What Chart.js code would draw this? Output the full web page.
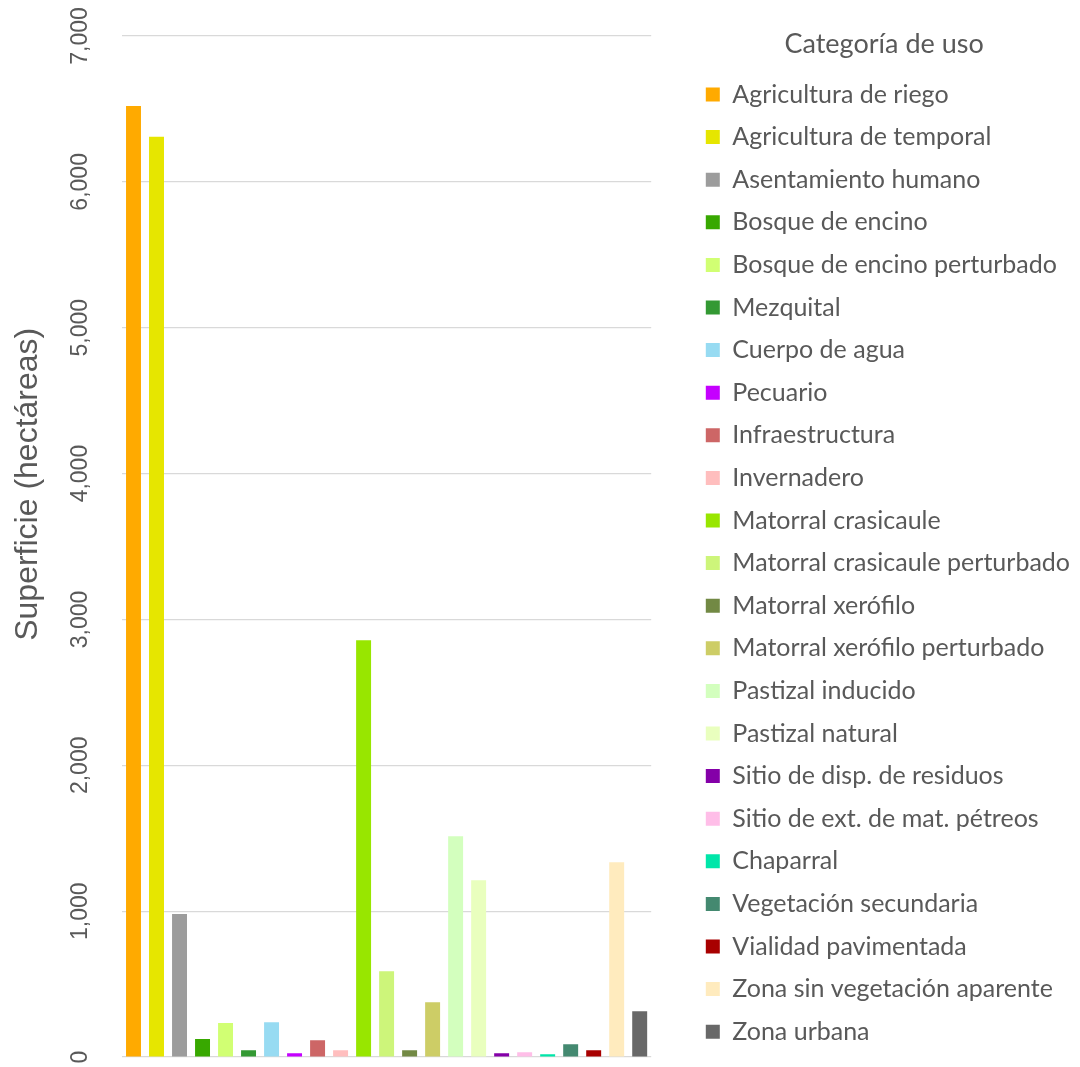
<!DOCTYPE html>
<html><head><meta charset="utf-8">
<script src="https://cdn.jsdelivr.net/npm/chart.js@4"></script>
<style>html,body{margin:0;padding:0;background:#fff}canvas{display:block}</style>
</head><body>
<canvas id="c" width="1080" height="1067"></canvas>
<script>
const categories = [
  "Agricultura de riego","Agricultura de temporal","Asentamiento humano","Bosque de encino",
  "Bosque de encino perturbado","Mezquital","Cuerpo de agua","Pecuario","Infraestructura",
  "Invernadero","Matorral crasicaule","Matorral crasicaule perturbado","Matorral xerófilo",
  "Matorral xerófilo perturbado","Pastizal inducido","Pastizal natural","Sitio de disp. de residuos",
  "Sitio de ext. de mat. pétreos","Chaparral","Vegetación secundaria","Vialidad pavimentada",
  "Zona sin vegetación aparente","Zona urbana"
];
const superficie = [6520, 6310, 980, 123, 233, 46, 238, 25, 114, 46, 2858, 588, 46, 375, 1514, 1212, 25, 32, 18, 87, 46, 1336, 313];
const colores = ["#FFAA00","#E6E600","#9C9C9C","#38A800","#D1FF73","#339933","#97DBF2","#C500FF","#CD6666",
  "#FFBEBE","#98E600","#CDF57A","#728944","#CDCD66","#D3FFBE","#E9FFBE","#8400A8","#FFBEE8","#00E6A9",
  "#448970","#A80000","#FFEBBE","#686868"];
const yMin = 0, yMax = 7000, yStep = 1000;
const yTitle = "Superficie (hectáreas)";
const legendTitle = "Categoría de uso";
const gray = "#595959";

new Chart(document.getElementById("c"), {
  type: "bar",
  data: {
    labels: categories,
    datasets: [{
      data: superficie,
      backgroundColor: colores,
      borderWidth: 0,
      categoryPercentage: 1,
      barPercentage: 0.65
    }]
  },
  options: {
    responsive: false,
    animation: false,
    devicePixelRatio: 1,
    layout: { padding: 0 },
    plugins: {
      tooltip: { enabled: false },
      legend: {
        position: "right",
        align: "start",
        maxWidth: 430,
        onClick: null,
        title: {
          display: true,
          text: legendTitle,
          color: gray,
          font: { family: "Lato", size: 27 },
          padding: { top: 30.5, bottom: 1.5 }
        },
        labels: {
          boxWidth: 14,
          boxHeight: 14,
          padding: 17.6,
          color: gray,
          font: { family: "Lato", size: 25 },
          generateLabels: () => categories.map((c, i) => ({
            text: c, fillStyle: colores[i], strokeStyle: colores[i], lineWidth: 0,
            hidden: false, index: i, datasetIndex: 0, fontColor: gray
          }))
        }
      }
    },
    scales: {
      x: { display: false },
      y: {
        min: yMin, max: yMax,
        border: { display: false },
        grid: { color: "#d9d9d9", lineWidth: 1.2, drawTicks: false },
        ticks: {
          stepSize: yStep,
          minRotation: 90, maxRotation: 90,
          crossAlign: "center",
          padding: 12.25,
          color: gray,
          font: { family: "Liberation Sans", size: 23 },
          callback: v => Number(v).toLocaleString("en-US")
        },
        title: {
          display: true,
          text: " ".repeat(14) + yTitle,
          color: gray,
          font: { family: "Liberation Sans", size: 32 },
          padding: { top: 8.8, bottom: 0 }
        },
        afterFit: s => {
          s.width = 122;
          s.paddingTop = 36;
          s.paddingBottom = 10;
          s.paddingRight = 428;
        }
      },
      gap: {
        type: "linear",
        position: "right",
        display: true,
        border: { display: false },
        grid: { display: false, drawTicks: false },
        ticks: { display: false },
        afterFit: s => { s.width = 37; }
      }
    }
  }
});
</script>
</body></html>
